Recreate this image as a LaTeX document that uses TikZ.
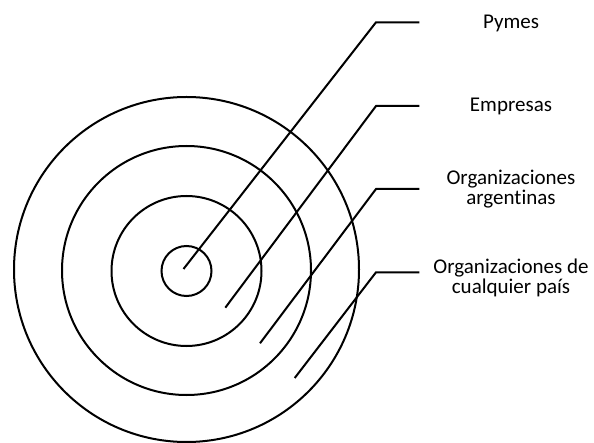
\documentclass[tikz,border=0pt]{standalone}
\usepackage{fontspec}
\setmainfont{Carlito}[Ligatures={NoCommon}]
\begin{document}
\begin{tikzpicture}[x=1pt, y=-1pt,
  ring/.style={draw=black, line width=2pt, circle, inner sep=0pt, outer sep=0pt},
  leader/.style={draw=black, line width=2pt, line join=miter},
  tag/.style={font=\fontsize{21}{20}\selectfont, align=center, anchor=base, inner sep=0pt}]
\useasboundingbox (0,0) rectangle (594,443);

% concentric rings, innermost to outermost
\node[ring, minimum size=50pt]  (r1) at (186.5,271) {};
\node[ring, minimum size=150pt] (r2) at (186.5,271) {};
\node[ring, minimum size=249pt] (r3) at (186.5,270.5) {};
\node[ring, minimum size=345pt] (r4) at (186.5,269.5) {};

% leader line anchor points
\coordinate (s1) at (183.5,269);
\coordinate (s2) at (225.3,307.7);
\coordinate (s3) at (260,343.3);
\coordinate (s4) at (294.7,378);
\coordinate (k1) at (376,22.3);
\coordinate (k2) at (376,106);
\coordinate (k3) at (376,189);
\coordinate (k4) at (376,272.3);
\coordinate (e1) at (419.3,22.3);
\coordinate (e2) at (419.3,106);
\coordinate (e3) at (419.3,189);
\coordinate (e4) at (419.3,272.3);

\draw[leader] (s1) -- (k1) -- (e1);
\draw[leader] (s2) -- (k2) -- (e2);
\draw[leader] (s3) -- (k3) -- (e3);
\draw[leader] (s4) -- (k4) -- (e4);

% labels (base anchor sits on the last line of each label)
\node[tag] (t1) at (511,28.3) {Pymes};
\node[tag] (t2) at (511,111.7) {Empresas};
\node[tag] (t3) at (511,205) {Organizaciones\\argentinas};
\node[tag] (t4) at (511,293.3) {Organizaciones de\\cualquier país};
\end{tikzpicture}
\end{document}
